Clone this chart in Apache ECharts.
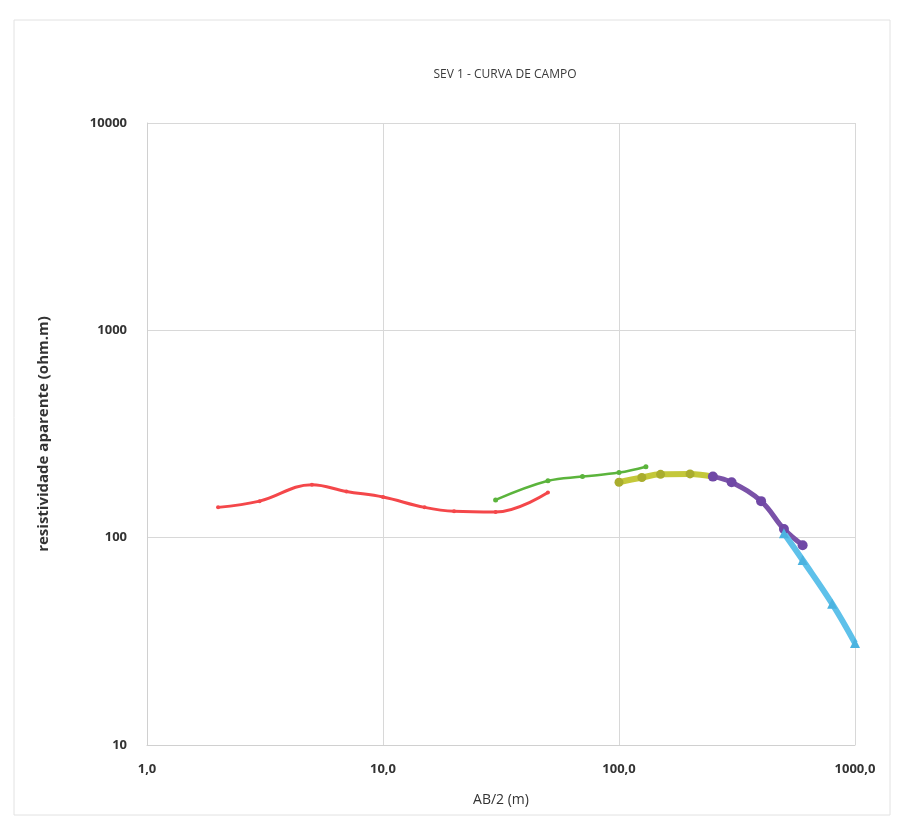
<!DOCTYPE html>
<html>
<head>
<meta charset="utf-8">
<script src="https://cdn.jsdelivr.net/npm/echarts@6/dist/echarts.min.js"></script>
<style>
  html, body { margin: 0; padding: 0; background: #fff; }
  #chart { width: 899px; height: 823px; }
</style>
</head>
<body>
<div id="chart"></div>
<script>
// dados da curva de campo (AB/2 em m, resistividade em ohm.m)
var redX = [2, 3, 5, 7, 10, 15, 20, 30, 50]
var redY = [140, 150, 180, 167, 157, 140, 134, 133, 165]
var greenX = [30, 50, 70, 100, 130]
var greenY = [152, 188, 197, 206, 220]
var yellowX = [100, 125, 150, 200, 250]
var yellowY = [185, 195, 202, 203, 197]
var purpleX = [250, 300, 400, 500, 600]
var purpleY = [197, 185, 150, 110, 92]
var cyanX = [500, 600, 800, 1000]
var cyanY = [105, 78, 48, 31]

function pares(xs, ys) {
  return xs.map(function (x, i) { return [x, ys[i]] })
}

var myChart = echarts.init(document.getElementById('chart'))

var labelFont = {
  color: '#333',
  fontFamily: 'Open Sans',
  fontWeight: 'bold',
  fontSize: 13
}

var option = {
  animation: false,
  backgroundColor: '#fff',
  title: {
    text: 'SEV 1 - CURVA DE CAMPO',
    left: 500,
    top: 64,
    textAlign: 'center',
    textStyle: { fontSize: 12, fontWeight: 'normal', color: '#3a3a3a', fontFamily: 'Open Sans' }
  },
  grid: { left: 147, right: 44, top: 123, bottom: 78 },
  xAxis: {
    type: 'log',
    logBase: 10,
    min: 1,
    max: 1000,
    name: 'AB/2 (m)',
    nameLocation: 'middle',
    nameGap: 48,
    nameTextStyle: { fontSize: 14, color: '#333', fontFamily: 'Open Sans' },
    axisLine: { lineStyle: { color: '#d0d0d0' } },
    axisTick: { show: false },
    splitLine: { show: true, lineStyle: { color: '#d8d8d8' } },
    axisLabel: Object.assign({
      margin: 18,
      formatter: function (v) { return v.toFixed(1).replace('.', ',') }
    }, labelFont)
  },
  yAxis: {
    type: 'log',
    logBase: 10,
    min: 10,
    max: 10000,
    name: 'resistividade aparente (ohm.m)',
    nameLocation: 'middle',
    nameGap: 96,
    nameTextStyle: { fontSize: 15, fontWeight: 'bold', color: '#333', fontFamily: 'Open Sans' },
    axisLine: { show: true, lineStyle: { color: '#d0d0d0' } },
    axisTick: { show: false },
    splitLine: { show: true, lineStyle: { color: '#d8d8d8' } },
    axisLabel: Object.assign({
      margin: 20,
      formatter: function (v) { return String(Math.round(v)) }
    }, labelFont)
  },
  series: [
    {
      name: 'red',
      type: 'line',
      smooth: 0.4,
      data: pares(redX, redY),
      symbol: 'circle',
      symbolSize: 4,
      lineStyle: { color: '#f4474a', width: 3 },
      itemStyle: { color: '#f4474a' }
    },
    {
      name: 'green',
      type: 'line',
      smooth: 0.4,
      data: pares(greenX, greenY),
      symbol: 'circle',
      symbolSize: 5,
      lineStyle: { color: '#5bb43c', width: 2.5 },
      itemStyle: { color: '#5bb43c' }
    },
    {
      name: 'yellow',
      type: 'line',
      smooth: 0.4,
      data: pares(yellowX, yellowY),
      symbol: 'circle',
      symbolSize: 9,
      lineStyle: { color: '#c4c83a', width: 6 },
      itemStyle: { color: '#a9ad2e' }
    },
    {
      name: 'purple',
      type: 'line',
      smooth: 0.4,
      data: pares(purpleX, purpleY),
      symbol: 'circle',
      symbolSize: 10,
      lineStyle: { color: '#7a52a8', width: 5 },
      itemStyle: { color: '#7048a6' }
    },
    {
      name: 'cyan',
      type: 'line',
      smooth: 0.4,
      data: pares(cyanX, cyanY),
      symbol: 'triangle',
      symbolSize: 10,
      lineStyle: { color: '#5ec1ea', width: 6 },
      itemStyle: { color: '#4bb3e0' }
    }
  ],
  graphic: [
    {
      type: 'rect',
      shape: { x: 14, y: 20, width: 876, height: 795 },
      style: { fill: 'none', stroke: '#e2e2e2', lineWidth: 1 },
      silent: true,
      z: -1
    }
  ]
}

myChart.setOption(option)
</script>
</body>
</html>
